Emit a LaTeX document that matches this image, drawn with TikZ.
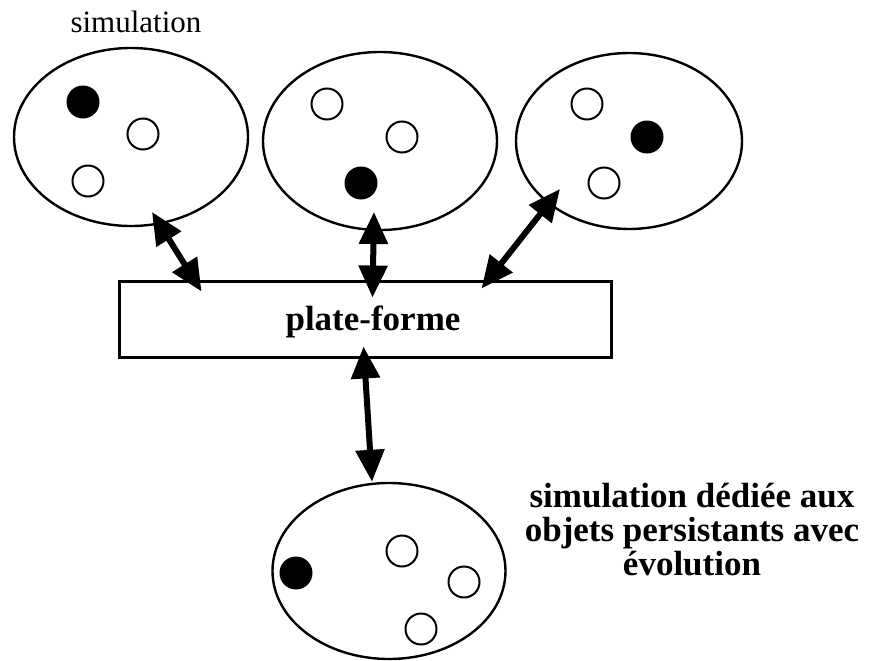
\documentclass[tikz,border=0pt]{standalone}
\usepackage{fontspec}
\setmainfont{Liberation Serif}
\usetikzlibrary{shapes.geometric,arrows.meta,calc}
\begin{document}
\begin{tikzpicture}[x=1pt,y=-1pt,
  world/.style={draw,shape=ellipse,line width=2.4pt,inner sep=0pt,
    minimum width=234pt,minimum height=178pt},
  hollow/.style={draw,circle,line width=2pt,inner sep=0pt,minimum size=31pt},
  solid/.style={fill=black,circle,inner sep=0pt,minimum size=33pt},
  link/.style={line width=6pt,
    {Triangle[length=32pt,width=28pt]}-{Triangle[length=32pt,width=28pt]}}]
\useasboundingbox (0,0) rectangle (878,661);

% upper simulation worlds
\node[world] (e1) at (131,137) {};
\node[world] (e2) at (380,141) {};
\node[world,minimum width=226pt,minimum height=176pt] (e3) at (629,141) {};
\node[font=\fontsize{31}{31}\selectfont] (lbl) at (136,22) {simulation};

% objects inside each world
\node[solid]  (o11) at (83,102) {};
\node[hollow] (o12) at (143,134) {};
\node[hollow] (o13) at (88,181) {};
\node[hollow] (o21) at (327,104) {};
\node[hollow] (o22) at (402,137) {};
\node[solid]  (o23) at (361,183) {};
\node[hollow] (o31) at (587,104) {};
\node[solid]  (o32) at (647,137) {};
\node[hollow] (o33) at (604,183) {};

% platform
\node[draw,line width=3pt,minimum width=492pt,minimum height=76pt,inner sep=0pt] (pf) at (365,319) {};
\node[font=\bfseries\fontsize{35}{35}\selectfont,inner sep=0pt] (pft) at (373,322) {plate-forme};

% dedicated world
\node[world,minimum width=233pt,minimum height=176pt] (e4) at (389,571) {};
\node[solid]  (o41) at (296,573) {};
\node[hollow] (o42) at (402,551) {};
\node[hollow] (o43) at (464,582) {};
\node[hollow] (o44) at (421,629) {};
\node[font=\bfseries\fontsize{35}{34}\selectfont,align=center] (txt) at (692,530)
  {simulation dédiée aux\\objets persistants avec\\évolution};

% arrow ends
\coordinate (t1) at ($(e1.center)+(21,75)$);
\coordinate (b1) at ($(pf.north west)+(84,12)$);
\coordinate (t2) at ($(e2.center)+(-6,71)$);
\coordinate (b2) at ($(pf.north west)+(255,18)$);
\coordinate (t3) at ($(e3.center)+(-69,48)$);
\coordinate (b3) at ($(pf.north west)+(364,9)$);
\coordinate (b4) at ($(pf.south west)+(246,-12)$);

\draw[link] (t1) -- (b1);
\draw[link] (t2) -- (b2);
\draw[link] (t3) -- (b3);
\draw[link] (b4) -- (e4.north -| 372,0);
\end{tikzpicture}
\end{document}
